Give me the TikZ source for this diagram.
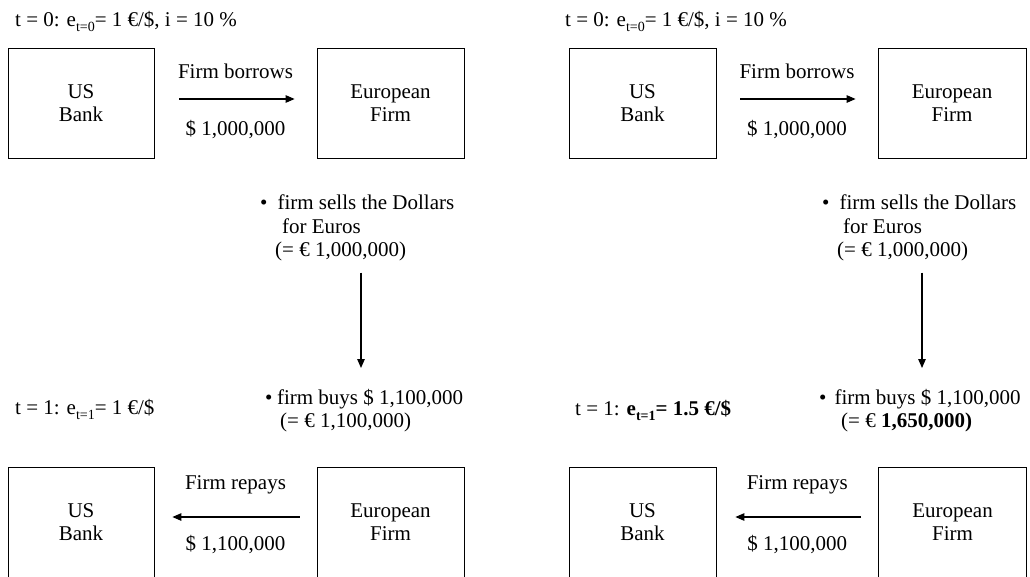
\documentclass[tikz,border=0pt]{standalone}
\usepackage{fontspec}
\setmainfont{Liberation Serif}
\usetikzlibrary{arrows.meta}
\newcommand{\lowsub}[1]{\raisebox{-5.5pt}{\fontsize{14}{14}\selectfont #1}}

\begin{document}
\begin{tikzpicture}[x=1pt, y=-1pt,
    font=\fontsize{21}{23.5}\selectfont,
    box/.style={draw, line width=0.8pt, minimum width=146pt, minimum height=110pt, align=center, inner sep=0pt},
    arr/.style={-{Triangle[length=9pt,width=7.5pt]}, line width=1.2pt},
    txt/.style={inner sep=0pt, align=left}]
    \useasboundingbox (0,0) rectangle (1030,576);

    % t = 0, left
    \node[inner sep=0pt, anchor=base west] (titleA) at (15,26) {t = 0: e\lowsub{t=0}= 1 €/\$, i = 10 \%};
    \node[box] (bankA) at (81,103) {US\\Bank};
    \node[box, minimum width=147pt] (firmA) at (390.5,103) {European\\Firm};
    \draw[arr, shorten <=25pt, shorten >=22pt] ([yshift=4pt]bankA.east) -- ([yshift=4pt]firmA.west)
        node[midway, above=20pt, inner sep=0pt] {Firm borrows}
        node[midway, below=21pt, inner sep=0pt] {\$ 1,000,000};

    % t = 0, right
    \node[inner sep=0pt, anchor=base west] (titleB) at (565,26) {t = 0: e\lowsub{t=0}= 1 €/\$, i = 10 \%};
    \node[box, minimum width=147pt] (bankB) at (642.5,103) {US\\Bank};
    \node[box, minimum width=148pt] (firmB) at (952,103) {European\\Firm};
    \draw[arr, shorten <=24pt, shorten >=22pt] ([yshift=4pt]bankB.east) -- ([yshift=4pt]firmB.west)
        node[midway, above=20pt, inner sep=0pt] {Firm borrows}
        node[midway, below=21pt, inner sep=0pt] {\$ 1,000,000};

    % Dollars -> Euros -> Dollars
    \node[txt, anchor=north west] (sellsA) at (260,195) {\textbullet\hspace{10pt}firm sells the Dollars\\ \hspace*{22pt}for Euros\\ \hspace*{15pt}(= € 1,000,000)};
    \node[txt, anchor=north west] (buysA) at (265,389) {\textbullet\hspace{4.5pt}firm buys \$ 1,100,000\\ \hspace*{15pt}(= € 1,100,000)};
    \coordinate (downA) at (361,0);
    \draw[arr, shorten <=11pt, shorten >=21pt] (sellsA.south -| downA) -- (buysA.north -| downA);

    \node[txt, anchor=north west] (sellsB) at (822,195) {\textbullet\hspace{10pt}firm sells the Dollars\\ \hspace*{21pt}for Euros\\ \hspace*{15pt}(= € 1,000,000)};
    \node[txt, anchor=north west] (buysB) at (819,389) {\textbullet\hspace{8pt}firm buys \$ 1,100,000\\ \hspace*{22pt}(= € \textbf{1,650,000)}};
    \coordinate (downB) at (922,0);
    \draw[arr, shorten <=11pt, shorten >=21pt] (sellsB.south -| downB) -- (buysB.north -| downB);

    % t = 1, left
    \node[inner sep=0pt, anchor=base west] (timeA) at (15,414) {t = 1: e\lowsub{t=1}= 1 €/\$};
    \node[box] (bankC) at (81,522) {US\\Bank};
    \node[box, minimum width=147pt] (firmC) at (390.5,522) {European\\Firm};
    \draw[arr, shorten <=17pt, shorten >=18pt] ([yshift=5pt]firmC.west) -- ([yshift=5pt]bankC.east)
        node[midway, above=22pt, inner sep=0pt] {Firm repays}
        node[midway, below=17.5pt, inner sep=0pt] {\$ 1,100,000};

    % t = 1, right
    \node[inner sep=0pt, anchor=base west] (timeB) at (575,415) {t = 1: \textbf{e\lowsub{t=1}= 1.5 €/\$}};
    \node[box, minimum width=147pt] (bankD) at (642.5,522) {US\\Bank};
    \node[box, minimum width=148pt] (firmD) at (952.5,522) {European\\Firm};
    \draw[arr, shorten <=17pt, shorten >=19pt] ([yshift=5pt]firmD.west) -- ([yshift=5pt]bankD.east)
        node[midway, above=22pt, inner sep=0pt] {Firm repays}
        node[midway, below=17.5pt, inner sep=0pt] {\$ 1,100,000};
\end{tikzpicture}
\end{document}
